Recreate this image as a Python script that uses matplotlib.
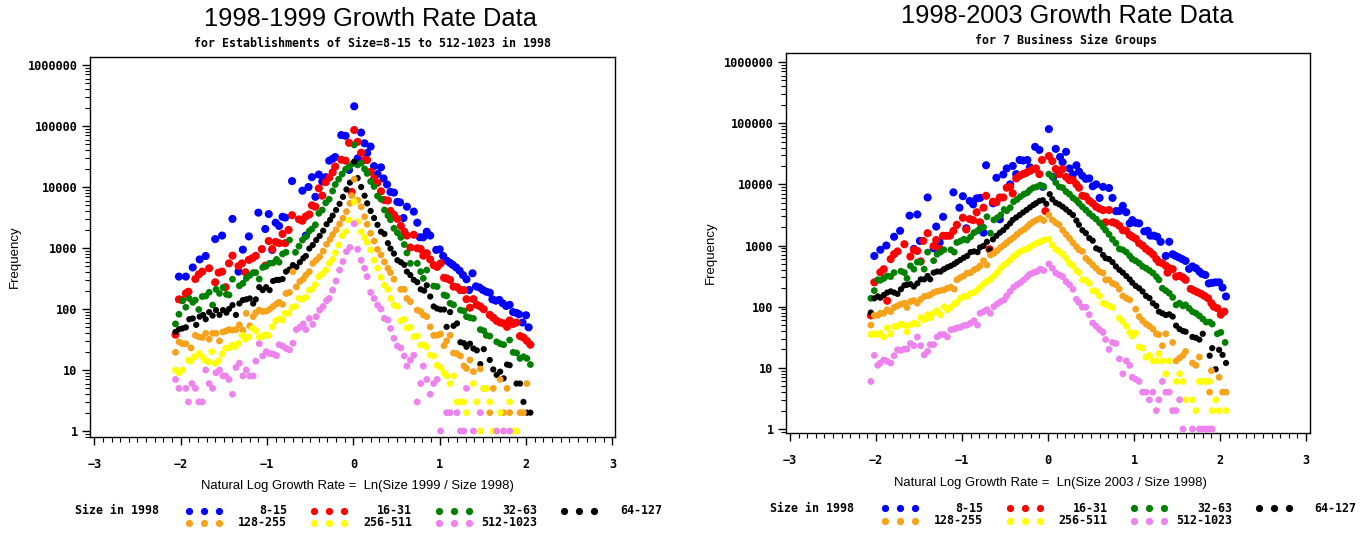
import matplotlib
matplotlib.use("Agg")
import matplotlib.pyplot as plt
from matplotlib.lines import Line2D
from matplotlib.ticker import FixedLocator, FixedFormatter, MultipleLocator, LogLocator, NullFormatter

# ---------------- data (x = ln growth rate bin, y = frequency) ----------------
size_groups = ["8-15", "16-31", "32-63", "64-127", "128-255", "256-511", "512-1023"]
group_colors = ["#0000ff", "#ff0000", "#008000", "#000000", "#f7a21b", "#ffff00", "#ee82ee"]
group_sizes = [34, 34, 24, 20, 24, 24, 24]

# ---- 1998-1999 ----
g99_8_15 = [(-2.02,340),(-1.94,340),(-1.86,480),(-1.78,650),(-1.71,740),(-1.60,1400),(-1.52,1600),(-1.40,3000),(-1.33,410),(-1.28,940),(-1.21,1550),(-1.10,3800),(-1.02,2050),(-0.98,3600),(-0.94,930),(-0.90,2600),(-0.86,2300),(-0.82,3250),(-0.79,3150),(-0.71,12500),(-0.59,8700),(-0.55,1600),(-0.52,10000),(-0.48,14500),(-0.44,6900),(-0.40,16000),(-0.36,12300),(-0.32,14500),(-0.28,27000),(-0.24,29000),(-0.21,31000),(-0.14,71000),(-0.09,69000),(-0.05,19000),(0.01,210000),(0.05,29500),(0.09,78000),(0.13,52000),(0.16,36000),(0.20,46000),(0.24,22000),(0.28,16300),(0.32,21000),(0.35,13800),(0.39,11000),(0.43,8300),(0.47,8100),(0.51,5700),(0.54,5600),(0.58,3100),(0.62,4750),(0.70,3950),(0.74,2600),(0.77,1500),(0.81,1500),(0.85,1850),(0.89,1600),(0.96,930),(1.00,950),(1.04,740),(1.08,620),(1.12,570),(1.15,530),(1.19,480),(1.23,425),(1.27,360),(1.31,307),(1.34,205),(1.38,385),(1.42,235),(1.46,225),(1.50,205),(1.54,192),(1.58,185),(1.61,144),(1.65,137),(1.69,141),(1.73,124),(1.77,112),(1.81,117),(1.85,89),(1.89,86),(1.92,82),(1.96,60),(2.00,79),(2.03,50)]
g99_16_31 = [(-2.06,38),(-2.02,144),(-1.98,140),(-1.94,180),(-1.91,192),(-1.83,310),(-1.79,370),(-1.75,410),(-1.67,465),(-1.60,274),(-1.56,395),(-1.52,410),(-1.48,228),(-1.44,560),(-1.40,750),(-1.33,505),(-1.29,560),(-1.25,400),(-1.21,640),(-1.17,680),(-1.13,745),(-1.06,960),(-1.02,515),(-0.98,1300),(-0.94,960),(-0.90,1260),(-0.86,1200),(-0.82,1700),(-0.79,1200),(-0.75,1980),(-0.71,3450),(-0.63,2950),(-0.59,2800),(-0.55,3300),(-0.51,3550),(-0.48,5000),(-0.44,4750),(-0.40,9500),(-0.36,7200),(-0.32,12000),(-0.28,14200),(-0.24,17400),(-0.21,21600),(-0.14,28000),(-0.09,27000),(-0.05,53000),(-0.02,8300),(0.01,86000),(0.05,55000),(0.09,36500),(0.13,27700),(0.16,27700),(0.20,17800),(0.24,13800),(0.28,11700),(0.32,8500),(0.36,6100),(0.40,6000),(0.43,4050),(0.47,3500),(0.51,3000),(0.55,2300),(0.59,1850),(0.62,1600),(0.66,1020),(0.70,1650),(0.74,990),(0.78,960),(0.81,750),(0.85,820),(0.89,650),(0.93,525),(0.97,490),(1.01,560),(1.05,325),(1.08,318),(1.12,300),(1.16,233),(1.20,228),(1.24,204),(1.28,204),(1.31,145),(1.35,105),(1.39,145),(1.43,117),(1.47,110),(1.51,99),(1.58,80),(1.62,72),(1.66,64),(1.70,60),(1.74,58),(1.78,51),(1.81,65),(1.85,57),(1.89,60),(1.93,36),(1.97,34),(2.01,30),(2.05,26)]
g99_32_63 = [(-2.06,57),(-2.02,82),(-1.98,137),(-1.94,107),(-1.90,149),(-1.86,129),(-1.83,140),(-1.79,98),(-1.75,160),(-1.71,163),(-1.67,188),(-1.63,116),(-1.59,210),(-1.55,180),(-1.51,225),(-1.47,174),(-1.44,170),(-1.40,308),(-1.32,240),(-1.28,263),(-1.24,318),(-1.20,355),(-1.16,395),(-1.13,395),(-1.09,310),(-1.05,480),(-1.01,505),(-0.97,560),(-0.93,570),(-0.89,650),(-0.86,585),(-0.82,800),(-0.78,850),(-0.74,1350),(-0.67,850),(-0.63,1070),(-0.59,1350),(-0.55,1540),(-0.51,1900),(-0.48,2050),(-0.44,2400),(-0.40,3700),(-0.36,4200),(-0.32,5500),(-0.28,6300),(-0.24,8600),(-0.21,11000),(-0.17,13400),(-0.13,16300),(-0.09,19500),(-0.05,21500),(-0.01,24000),(0.01,49000),(0.05,23000),(0.09,24500),(0.13,19800),(0.16,16700),(0.20,12300),(0.24,10200),(0.28,7100),(0.32,6300),(0.36,4200),(0.40,3400),(0.43,2900),(0.47,2100),(0.51,1780),(0.55,1490),(0.59,1140),(0.62,830),(0.66,560),(0.74,560),(0.78,410),(0.81,318),(0.85,435),(0.93,238),(0.97,233),(1.05,170),(1.08,164),(1.12,124),(1.16,117),(1.24,96),(1.28,93),(1.31,75),(1.35,72),(1.39,70),(1.47,46),(1.51,44),(1.54,37),(1.58,36),(1.66,29),(1.70,27),(1.74,26),(1.81,31),(1.85,19.5),(1.89,19),(1.93,15.5),(1.97,16.5),(2.01,15.5),(2.05,12.3)]
g99_64_127 = [(-2.06,42),(-2.02,46.5),(-1.98,48),(-1.94,50),(-1.90,68),(-1.86,70),(-1.82,55),(-1.78,75),(-1.74,80),(-1.71,68),(-1.67,89),(-1.63,78),(-1.59,96),(-1.55,80),(-1.51,96),(-1.47,87),(-1.44,100),(-1.40,116),(-1.36,80),(-1.32,123),(-1.28,140),(-1.24,144),(-1.20,149),(-1.16,123),(-1.13,144),(-1.09,228),(-1.05,204),(-1.01,228),(-0.97,204),(-0.93,288),(-0.89,300),(-0.86,300),(-0.82,310),(-0.78,410),(-0.74,445),(-0.70,525),(-0.66,490),(-0.62,585),(-0.58,680),(-0.55,740),(-0.51,980),(-0.47,1120),(-0.43,1350),(-0.39,1580),(-0.35,1920),(-0.31,2450),(-0.27,2880),(-0.24,3400),(-0.20,4200),(-0.16,5300),(-0.12,6900),(-0.08,9100),(-0.04,11800),(0.01,26000),(0.05,14000),(0.09,10000),(0.13,7200),(0.16,5400),(0.20,4050),(0.24,3100),(0.28,2400),(0.32,1850),(0.36,1700),(0.40,1200),(0.43,980),(0.47,810),(0.51,630),(0.55,585),(0.59,530),(0.62,410),(0.66,360),(0.70,300),(0.74,275),(0.78,210),(0.82,200),(0.85,245),(0.89,160),(0.93,110),(0.97,102),(1.01,98),(1.05,98),(1.08,51),(1.12,89),(1.16,53),(1.20,58),(1.24,28.5),(1.28,27.5),(1.31,24),(1.35,27),(1.39,22.5),(1.43,21),(1.47,12.5),(1.51,22),(1.58,14.6),(1.62,10.2),(1.66,8.3),(1.70,9.4),(1.74,7.3),(1.78,12.3),(1.81,12),(1.89,6),(1.93,6),(1.97,3),(2.01,2),(2.05,2)]
g99_128_255 = [(-2.06,19.5),(-2.02,29),(-1.98,27),(-1.94,27),(-1.88,23),(-1.83,37),(-1.79,35),(-1.75,34),(-1.71,40),(-1.67,32),(-1.63,40),(-1.59,40),(-1.55,30),(-1.51,42),(-1.47,44),(-1.44,46),(-1.40,45),(-1.36,46),(-1.32,55),(-1.28,45),(-1.24,85),(-1.20,53),(-1.16,75),(-1.13,87),(-1.09,96),(-1.05,91),(-1.01,92),(-0.97,99),(-0.93,110),(-0.89,121),(-0.86,129),(-0.82,119),(-0.78,180),(-0.74,187),(-0.70,410),(-0.66,230),(-0.62,282),(-0.58,310),(-0.55,360),(-0.51,410),(-0.47,560),(-0.43,630),(-0.39,720),(-0.35,890),(-0.31,1150),(-0.27,1390),(-0.24,1660),(-0.20,1990),(-0.16,2470),(-0.12,3070),(-0.08,3950),(-0.04,5400),(-0.02,7200),(0.01,13400),(0.05,6100),(0.09,4750),(0.13,3250),(0.16,2450),(0.20,1740),(0.24,1300),(0.28,950),(0.32,770),(0.36,590),(0.40,465),(0.43,395),(0.47,308),(0.55,210),(0.59,210),(0.62,149),(0.66,132),(0.74,96),(0.78,91),(0.81,80),(0.85,75),(0.89,51),(0.93,37),(0.97,37),(1.01,39),(1.05,25),(1.08,30),(1.12,37),(1.16,19),(1.20,18.5),(1.24,17),(1.28,11.7),(1.31,10.6),(1.35,14.6),(1.39,9.4),(1.47,10.4),(1.51,5),(1.58,2),(1.62,5),(1.70,7),(1.74,2),(1.78,5),(1.81,2),(1.93,2),(1.97,2),(2.01,6)]
g99_256_511 = [(-2.06,10),(-2.02,9),(-1.98,10),(-1.91,14.5),(-1.88,14),(-1.84,16.5),(-1.79,18.7),(-1.75,16.5),(-1.72,14.5),(-1.68,13.7),(-1.64,20),(-1.60,12.9),(-1.56,14.2),(-1.52,18.3),(-1.48,22.7),(-1.44,23.2),(-1.40,25.7),(-1.37,24),(-1.33,27.4),(-1.29,37),(-1.25,32),(-1.21,35),(-1.17,48),(-1.13,44),(-1.09,35),(-1.06,35),(-1.02,38),(-0.98,37),(-0.94,51),(-0.90,64),(-0.86,68),(-0.82,66),(-0.79,85),(-0.75,85),(-0.71,106),(-0.67,110),(-0.63,149),(-0.59,145),(-0.55,156),(-0.51,204),(-0.48,210),(-0.44,252),(-0.40,340),(-0.36,375),(-0.32,435),(-0.28,560),(-0.24,650),(-0.21,835),(-0.17,1120),(-0.13,1590),(-0.09,1850),(-0.05,2880),(0.01,5700),(0.05,2700),(0.09,1850),(0.13,1490),(0.16,1240),(0.20,930),(0.24,630),(0.28,465),(0.32,330),(0.36,245),(0.40,210),(0.43,149),(0.47,116),(0.51,110),(0.55,64),(0.59,68),(0.62,49),(0.66,50),(0.70,35),(0.74,36),(0.78,25.7),(0.82,25.7),(0.85,24),(0.89,17.6),(0.93,17),(0.97,12),(1.01,11),(1.05,9),(1.08,8),(1.12,6),(1.16,8),(1.20,3),(1.24,3),(1.28,3),(1.31,2),(1.39,6),(1.43,3),(1.47,1),(1.51,5),(1.54,5),(1.58,3),(1.62,1),(1.66,1),(1.70,2),(1.74,1),(1.81,3),(1.85,1),(1.89,1)]
g99_512_1023 = [(-2.06,7),(-2.02,5),(-1.94,5),(-1.91,3),(-1.87,6),(-1.83,5),(-1.79,3),(-1.75,3),(-1.71,10),(-1.67,6),(-1.63,5),(-1.59,9),(-1.55,10),(-1.51,8),(-1.48,8),(-1.44,7),(-1.40,4),(-1.36,11),(-1.32,13),(-1.28,8),(-1.24,10),(-1.20,8),(-1.16,8),(-1.13,14),(-1.09,27),(-1.05,17),(-1.01,20),(-0.97,18.7),(-0.93,18.3),(-0.89,17.2),(-0.86,26),(-0.82,24.7),(-0.78,22.6),(-0.74,21.4),(-0.70,27.5),(-0.66,46),(-0.62,50),(-0.58,57),(-0.55,46),(-0.51,70),(-0.47,56),(-0.43,75),(-0.39,96),(-0.35,110),(-0.31,137),(-0.28,149),(-0.24,204),(-0.20,288),(-0.16,435),(-0.12,600),(-0.08,870),(-0.04,1020),(0.01,2500),(0.05,950),(0.09,630),(0.13,465),(0.16,340),(0.20,187),(0.24,149),(0.28,116),(0.32,100),(0.36,70),(0.40,66),(0.43,48),(0.47,33),(0.51,24.7),(0.55,23),(0.59,17),(0.62,11.6),(0.66,14.5),(0.70,17.5),(0.74,3),(0.78,6),(0.81,11.6),(0.85,7),(0.89,4),(0.93,6),(0.97,7),(1.01,1),(1.08,2),(1.12,2),(1.20,2),(1.24,1),(1.28,1),(1.31,5),(1.39,1),(1.47,2),(1.66,1),(1.74,1),(1.81,1)]

# ---- 1998-2003 ----
g03_8_15 = [(-2.02,675),(-1.95,850),(-1.88,1000),(-1.79,1390),(-1.72,1740),(-1.61,3080),(-1.56,880),(-1.52,3220),(-1.49,1190),(-1.40,6100),(-1.33,900),(-1.30,2040),(-1.26,1120),(-1.22,2950),(-1.10,7400),(-1.03,4150),(-0.99,6400),(-0.95,1910),(-0.91,5350),(-0.87,4700),(-0.83,5900),(-0.79,6000),(-0.75,1620),(-0.72,20500),(-0.64,4900),(-0.60,12800),(-0.56,2680),(-0.52,14500),(-0.48,18200),(-0.44,10000),(-0.41,20000),(-0.37,14700),(-0.33,25000),(-0.29,24500),(-0.24,25000),(-0.21,19000),(-0.15,41000),(-0.10,36500),(-0.06,9100),(0.01,80000),(0.06,13200),(0.09,38000),(0.14,28000),(0.17,23000),(0.21,34000),(0.25,18200),(0.29,14500),(0.33,20500),(0.36,16200),(0.40,13800),(0.44,12300),(0.48,12500),(0.52,9300),(0.56,10000),(0.60,6000),(0.64,9100),(0.71,8700),(0.75,6000),(0.79,3650),(0.83,3650),(0.87,4450),(0.91,3500),(0.95,2300),(0.98,2600),(1.02,2350),(1.06,2300),(1.12,1700),(1.16,1740),(1.19,1450),(1.23,1450),(1.27,1390),(1.31,1150),(1.37,675),(1.41,1150),(1.45,720),(1.48,680),(1.52,640),(1.56,600),(1.60,560),(1.64,415),(1.68,455),(1.72,425),(1.76,375),(1.79,345),(1.83,330),(1.87,240),(1.91,245),(1.95,250),(1.99,250),(2.03,205),(2.07,147)]
g03_16_31 = [(-2.06,72),(-2.02,250),(-1.95,365),(-1.91,410),(-1.87,125),(-1.83,600),(-1.79,725),(-1.75,800),(-1.67,1050),(-1.60,660),(-1.56,850),(-1.52,815),(-1.48,550),(-1.45,1190),(-1.40,1590),(-1.33,980),(-1.30,1230),(-1.26,880),(-1.22,1440),(-1.18,1440),(-1.14,1450),(-1.10,1730),(-1.06,2180),(-0.99,2840),(-0.95,1830),(-0.91,2700),(-0.87,2600),(-0.83,3500),(-0.79,2400),(-0.75,4150),(-0.72,6500),(-0.68,870),(-0.64,5200),(-0.60,5100),(-0.56,6100),(-0.52,6100),(-0.48,8800),(-0.44,9100),(-0.41,7100),(-0.37,12500),(-0.33,13800),(-0.29,14700),(-0.25,15500),(-0.21,16600),(-0.17,17800),(-0.14,18200),(-0.10,14700),(-0.07,25000),(-0.03,3650),(0.01,29000),(0.05,24000),(0.09,17800),(0.13,14700),(0.17,17800),(0.21,13200),(0.25,11700),(0.29,11700),(0.33,10000),(0.36,8800),(0.40,6500),(0.44,6300),(0.48,5400),(0.52,4900),(0.56,4300),(0.60,4000),(0.64,3800),(0.67,2400),(0.71,3800),(0.75,2400),(0.79,2300),(0.83,2100),(0.87,1780),(0.91,1740),(0.95,1480),(0.98,1390),(1.02,1290),(1.06,1090),(1.10,1000),(1.14,880),(1.18,800),(1.22,720),(1.26,600),(1.29,535),(1.33,515),(1.37,465),(1.39,360),(1.41,425),(1.45,410),(1.49,310),(1.53,320),(1.57,300),(1.60,275),(1.66,195),(1.70,183),(1.74,172),(1.78,162),(1.82,150),(1.86,138),(1.90,114),(1.93,100),(1.97,94),(2.01,74),(2.05,83)]
g03_32_63 = [(-2.06,137),(-2.02,183),(-1.98,275),(-1.95,270),(-1.91,290),(-1.87,317),(-1.83,310),(-1.79,360),(-1.71,380),(-1.67,360),(-1.64,290),(-1.60,465),(-1.56,410),(-1.52,535),(-1.48,535),(-1.44,410),(-1.40,780),(-1.33,565),(-1.29,720),(-1.25,780),(-1.21,850),(-1.13,850),(-1.09,780),(-1.06,1120),(-1.02,1180),(-0.98,1260),(-0.94,1230),(-0.90,1390),(-0.86,1620),(-0.82,1730),(-0.79,1910),(-0.75,1990),(-0.71,2950),(-0.67,1590),(-0.63,2620),(-0.59,2840),(-0.55,3150),(-0.51,3880),(-0.48,3700),(-0.44,4150),(-0.40,5200),(-0.36,5650),(-0.32,6300),(-0.28,6900),(-0.24,7300),(-0.21,8100),(-0.17,8800),(-0.13,9100),(-0.09,9700),(-0.05,9100),(0.01,14700),(0.05,13300),(0.09,10700),(0.13,9100),(0.17,8800),(0.21,7600),(0.25,6900),(0.29,6000),(0.33,5500),(0.36,4900),(0.40,4300),(0.44,3800),(0.48,3350),(0.52,3000),(0.56,2700),(0.60,2350),(0.64,2030),(0.67,1780),(0.71,1520),(0.75,1260),(0.79,1090),(0.83,880),(0.87,850),(0.91,780),(0.95,680),(0.98,600),(1.02,560),(1.06,515),(1.10,455),(1.14,425),(1.18,390),(1.22,355),(1.26,310),(1.29,275),(1.33,200),(1.37,183),(1.41,166),(1.45,142),(1.49,107),(1.53,114),(1.57,103),(1.60,107),(1.64,94),(1.68,83),(1.72,78),(1.76,71),(1.80,63),(1.84,56),(1.88,56),(1.91,52),(1.97,36),(2.01,38),(2.06,26)]
g03_64_127 = [(-2.06,80),(-2.02,137),(-1.98,147),(-1.95,140),(-1.91,155),(-1.87,170),(-1.83,178),(-1.79,170),(-1.75,162),(-1.71,193),(-1.67,223),(-1.64,228),(-1.60,233),(-1.56,213),(-1.52,240),(-1.48,280),(-1.44,280),(-1.40,317),(-1.37,280),(-1.33,360),(-1.29,375),(-1.25,375),(-1.21,410),(-1.17,440),(-1.13,465),(-1.09,500),(-1.06,535),(-1.02,580),(-0.98,630),(-0.94,675),(-0.90,780),(-0.86,800),(-0.82,780),(-0.79,930),(-0.75,985),(-0.71,1150),(-0.68,850),(-0.64,1260),(-0.60,1440),(-0.56,1620),(-0.52,1780),(-0.48,2030),(-0.44,2300),(-0.41,2620),(-0.37,2870),(-0.33,3150),(-0.29,3470),(-0.25,3800),(-0.21,4200),(-0.17,4600),(-0.14,4900),(-0.10,5350),(-0.06,5500),(-0.02,4800),(0.02,6900),(0.05,5700),(0.09,5000),(0.13,4700),(0.17,4300),(0.21,3900),(0.25,3500),(0.29,3150),(0.33,2560),(0.36,2180),(0.40,1780),(0.44,1590),(0.48,1320),(0.52,1200),(0.56,900),(0.60,850),(0.64,700),(0.67,620),(0.71,600),(0.75,535),(0.79,455),(0.83,400),(0.87,360),(0.91,317),(0.95,280),(0.98,247),(1.02,218),(1.06,200),(1.10,177),(1.14,150),(1.18,138),(1.22,114),(1.26,103),(1.29,83),(1.33,78),(1.37,73),(1.41,75),(1.45,69),(1.49,49),(1.53,43),(1.57,40),(1.60,39),(1.68,32),(1.72,31),(1.76,29),(1.80,36),(1.88,15.8),(1.91,21),(1.95,9.5),(1.99,19.7),(2.03,16.3),(2.07,12)]
g03_128_255 = [(-2.06,50),(-2.02,72),(-1.98,72),(-1.95,78),(-1.91,78),(-1.87,89),(-1.83,83),(-1.79,97),(-1.75,103),(-1.71,110),(-1.67,114),(-1.64,97),(-1.60,121),(-1.56,126),(-1.52,114),(-1.48,132),(-1.44,147),(-1.40,150),(-1.37,156),(-1.33,170),(-1.29,178),(-1.25,183),(-1.21,188),(-1.17,200),(-1.13,208),(-1.09,193),(-1.06,275),(-1.02,300),(-0.98,317),(-0.94,355),(-0.90,360),(-0.86,400),(-0.82,425),(-0.79,465),(-0.75,565),(-0.71,480),(-0.67,700),(-0.63,745),(-0.59,825),(-0.55,930),(-0.51,1020),(-0.48,1110),(-0.44,1230),(-0.40,1350),(-0.36,1520),(-0.32,1690),(-0.28,1830),(-0.24,2030),(-0.21,2240),(-0.17,2450),(-0.13,2620),(-0.09,2770),(-0.05,2560),(0.01,3150),(0.05,2620),(0.09,2350),(0.13,2180),(0.17,1780),(0.21,1520),(0.25,1310),(0.29,1110),(0.33,960),(0.36,850),(0.40,800),(0.44,620),(0.48,550),(0.52,480),(0.56,425),(0.60,375),(0.64,355),(0.67,275),(0.71,275),(0.75,240),(0.79,228),(0.83,193),(0.87,150),(0.91,138),(0.95,129),(1.02,91),(1.06,69),(1.10,59),(1.14,52),(1.18,48),(1.22,43),(1.26,36),(1.29,35),(1.33,23),(1.37,36),(1.45,26),(1.49,13),(1.53,14.5),(1.57,16),(1.60,18.5),(1.68,12),(1.72,11),(1.76,15),(1.88,4),(1.90,9),(1.99,7),(2.03,4),(2.07,4)]
g03_256_511 = [(-2.06,35),(-2.02,36),(-1.98,35),(-1.95,37),(-1.91,32),(-1.87,45),(-1.83,36),(-1.79,47),(-1.75,48),(-1.71,52),(-1.67,50),(-1.64,39),(-1.60,50),(-1.56,54),(-1.52,52),(-1.48,66),(-1.44,61),(-1.40,74),(-1.37,66),(-1.33,78),(-1.29,86),(-1.25,74),(-1.21,100),(-1.17,89),(-1.13,97),(-1.09,111),(-1.06,117),(-1.02,137),(-0.98,147),(-0.94,147),(-0.90,166),(-0.86,170),(-0.82,188),(-0.79,208),(-0.75,235),(-0.71,257),(-0.67,280),(-0.63,317),(-0.59,360),(-0.55,425),(-0.51,480),(-0.48,515),(-0.44,580),(-0.40,660),(-0.36,725),(-0.32,800),(-0.28,850),(-0.24,870),(-0.21,940),(-0.17,1020),(-0.13,1090),(-0.09,1150),(-0.05,1230),(0.01,1260),(0.05,1020),(0.09,870),(0.13,800),(0.17,725),(0.21,620),(0.25,515),(0.29,465),(0.33,390),(0.36,360),(0.40,275),(0.44,270),(0.48,240),(0.52,183),(0.56,177),(0.60,150),(0.64,114),(0.67,110),(0.71,103),(0.75,97),(0.83,65),(0.87,57),(0.91,48),(0.95,38),(0.98,33),(1.02,37),(1.06,22),(1.10,21),(1.14,15),(1.18,16),(1.22,13),(1.26,13),(1.29,17),(1.33,13),(1.37,8),(1.41,13),(1.49,6),(1.53,8),(1.57,6),(1.60,3),(1.68,3),(1.72,2),(1.76,6),(1.80,6),(1.84,6),(1.88,6),(1.91,2),(1.95,3),(1.99,2),(2.07,2)]
g03_512_1023 = [(-2.06,6),(-2.02,16),(-1.98,11),(-1.95,12),(-1.91,13.5),(-1.87,12.8),(-1.83,12),(-1.79,15.8),(-1.75,19.7),(-1.71,19.3),(-1.67,20.3),(-1.64,20.3),(-1.60,25),(-1.56,23),(-1.52,32),(-1.48,23),(-1.44,16.3),(-1.40,18.5),(-1.37,24),(-1.33,24),(-1.29,32),(-1.25,35),(-1.21,35),(-1.17,32),(-1.13,42),(-1.09,43),(-1.06,45),(-1.02,46),(-0.98,49),(-0.94,50),(-0.90,54),(-0.86,59),(-0.82,50),(-0.79,78),(-0.75,83),(-0.71,89),(-0.67,78),(-0.63,100),(-0.59,111),(-0.55,121),(-0.51,129),(-0.48,150),(-0.44,177),(-0.40,208),(-0.36,228),(-0.32,247),(-0.28,275),(-0.24,310),(-0.21,340),(-0.17,360),(-0.13,375),(-0.09,410),(-0.05,390),(0.01,500),(0.05,425),(0.09,355),(0.13,330),(0.17,310),(0.21,257),(0.25,228),(0.29,193),(0.33,132),(0.36,117),(0.40,98),(0.44,98),(0.48,74),(0.52,54),(0.56,48),(0.60,42),(0.64,38),(0.67,29),(0.71,20),(0.75,26),(0.79,25),(0.83,14),(0.87,8),(0.91,13),(0.95,11),(0.98,7),(1.02,6.5),(1.06,6),(1.10,4),(1.14,4),(1.18,3),(1.22,4),(1.26,2),(1.29,3),(1.33,6),(1.37,4),(1.41,4),(1.45,2),(1.49,2),(1.53,3),(1.57,1),(1.68,1),(1.76,1),(1.80,1),(1.84,1),(1.88,1),(1.91,1)]

series_1999 = [g99_8_15, g99_16_31, g99_32_63, g99_64_127, g99_128_255, g99_256_511, g99_512_1023]
series_2003 = [g03_8_15, g03_16_31, g03_32_63, g03_64_127, g03_128_255, g03_256_511, g03_512_1023]

y_ticks = [1, 10, 100, 1000, 10000, 100000, 1000000]
y_tick_labels = ["1", "10", "100", "1000", "10000", "100000", "1000000"]
x_ticks = [-3, -2, -1, 0, 1, 2, 3]

# ---------------- figure ----------------
W, H = 1367, 533
fig = plt.figure(figsize=(W / 100, H / 100), dpi=100)

def fx(px):
    return px / W

def fy(py):
    return 1 - py / H

MONO = ["DejaVu Sans Mono"]
SANS = ["Liberation Sans", "DejaVu Sans"]

panels = [
    dict(series=series_1999, box=(90, 57, 615, 437), xlim=(-3.05, 3.03), ylim=(10 ** -0.098, 10 ** 6.131),
         title="1998-1999 Growth Rate Data", title_xy=(370, 19),
         subtitle="for Establishments of Size=8-15 to 512-1023 in 1998", sub_xy=(373, 43),
         xlabel="Natural Log Growth Rate =  Ln(Size 1999 / Size 1998)", xlabel_xy=(357, 486),
         ylabel_x=15, leg_text_x=75, leg_dot_x=189, leg_step=125, leg_rows=(511, 523)),
    dict(series=series_2003, box=(786, 53, 1310, 433), xlim=(-3.047, 3.047), ylim=(10 ** -0.065, 10 ** 6.147),
         title="1998-2003 Growth Rate Data", title_xy=(1067, 16),
         subtitle="for 7 Business Size Groups", sub_xy=(1066, 40),
         xlabel="Natural Log Growth Rate =  Ln(Size 2003 / Size 1998)", xlabel_xy=(1050, 483),
         ylabel_x=711, leg_text_x=770, leg_dot_x=885, leg_step=124.5, leg_rows=(508, 521)),
]

for p in panels:
    l, t, r, b = p["box"]
    ax = fig.add_axes([fx(l), fy(b), fx(r) - fx(l), fy(t) - fy(b)])
    for pts, col, sz in zip(p["series"], group_colors, group_sizes):
        xs = [q[0] for q in pts]
        ys = [q[1] for q in pts]
        ax.scatter(xs, ys, s=sz, c=col, edgecolors="none", zorder=3)
    ax.set_yscale("log")
    ax.set_xlim(*p["xlim"])
    ax.set_ylim(*p["ylim"])
    ax.yaxis.set_major_locator(FixedLocator(y_ticks))
    ax.yaxis.set_major_formatter(FixedFormatter(y_tick_labels))
    ax.yaxis.set_minor_locator(LogLocator(base=10, subs=range(2, 10), numticks=20))
    ax.yaxis.set_minor_formatter(NullFormatter())
    ax.xaxis.set_major_locator(FixedLocator(x_ticks))
    ax.xaxis.set_minor_locator(MultipleLocator(0.1))
    ax.tick_params(which="major", direction="out", length=6, width=1, color="black", pad=3)
    ax.tick_params(which="minor", direction="out", length=3.5, width=0.8, color="black")
    ax.tick_params(axis="x", which="major", pad=9)
    for lab in ax.get_xticklabels() + ax.get_yticklabels():
        lab.set_family(MONO)
        lab.set_fontweight("bold")
        lab.set_fontsize(8.6)
    for sp in ax.spines.values():
        sp.set_linewidth(1.0)
        sp.set_color("black")

    fig.text(fx(p["title_xy"][0]), fy(p["title_xy"][1]), p["title"], ha="center", va="center",
             family=SANS, fontsize=18.3)
    fig.text(fx(p["sub_xy"][0]), fy(p["sub_xy"][1]), p["subtitle"], ha="center", va="center",
             family=MONO, fontweight="bold", fontsize=8.4)
    fig.text(fx(p["xlabel_xy"][0]), fy(p["xlabel_xy"][1]), p["xlabel"], ha="center", va="center",
             family=SANS, fontsize=9.4)
    fig.text(fx(p["ylabel_x"]), fy((t + b) / 2 + 10), "Frequency", ha="center", va="center",
             rotation=90, family=SANS, fontsize=9.5)

    # legend
    fig.text(fx(p["leg_text_x"]), fy(p["leg_rows"][0]), "Size in 1998", ha="left", va="center",
             family=MONO, fontweight="bold", fontsize=8.4)
    for i, (name, col) in enumerate(zip(size_groups, group_colors)):
        row = 0 if i < 4 else 1
        colm = i if i < 4 else i - 4
        y = p["leg_rows"][row]
        x0 = p["leg_dot_x"] + colm * p["leg_step"]
        for k in range(3):
            fig.add_artist(Line2D([fx(x0 + 15 * k)], [fy(y)], transform=fig.transFigure,
                                  marker="o", markersize=5.2, color=col, markeredgewidth=0,
                                  linestyle="none"))
        fig.text(fx(x0 + 98), fy(y), name, ha="right", va="center",
                 family=MONO, fontweight="bold", fontsize=8.4)

fig.savefig("out.png", dpi=100, facecolor="white")
